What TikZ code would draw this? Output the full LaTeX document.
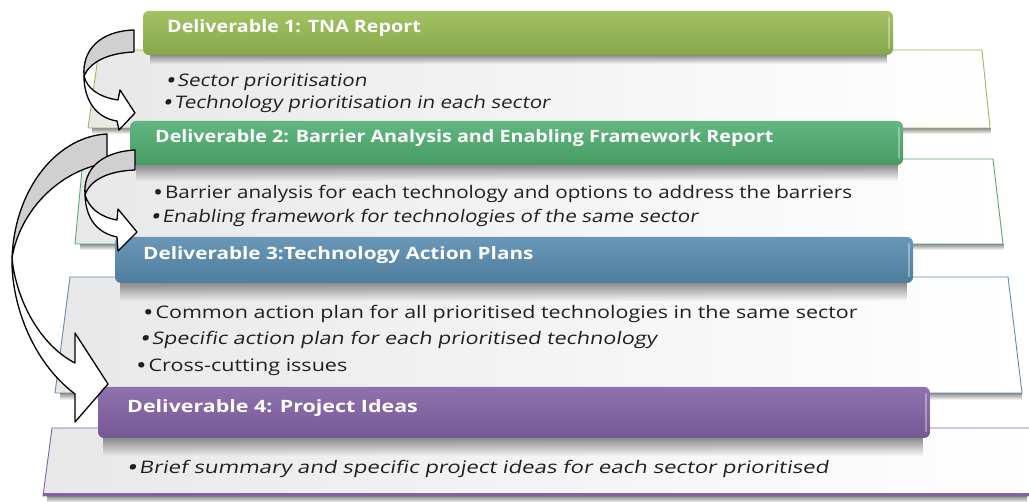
\documentclass[tikz,border=0pt]{standalone}
\usepackage{fontspec}
\usepackage{graphicx}
\setmainfont{Open Sans}
\newfontfamily\slantfont[FakeSlant=0.14]{Open Sans}
\usetikzlibrary{fadings}
\tikzfading[name=fadedown, top color=transparent!0, bottom color=transparent!100]
\newcommand\itemwide[2][1.19]{\scalebox{#1}[1]{\raisebox{-1.4pt}{\scalebox{1.3}{•}}\kern1.5pt#2}}
\newcommand\barwide[2][1.16]{\scalebox{#1}[1]{#2}}
\definecolor{barA1}{HTML}{A2C264}\definecolor{barA2}{HTML}{86A747}
\definecolor{barB1}{HTML}{62B681}\definecolor{barB2}{HTML}{469B63}
\definecolor{barC1}{HTML}{6A97B8}\definecolor{barC2}{HTML}{4E7D9E}
\definecolor{barD1}{HTML}{8F71AE}\definecolor{barD2}{HTML}{765896}
\definecolor{edgeA}{HTML}{9BBB59}\definecolor{edgeB}{HTML}{4CAF6E}
\definecolor{edgeC}{HTML}{5B8DB5}\definecolor{edgeD}{HTML}{8064A2}
\definecolor{boxgray}{HTML}{E8E8E8}\definecolor{backface}{HTML}{D0D0D0}
\tikzset{
  contentbox/.style={left color=boxgray, right color=white, line width=0.9pt},
  barbox/.style={rounded corners=6pt, draw=none},
  barshine/.style={draw=white, draw opacity=0.35, line width=2.5pt, line cap=round},
  shadowbox/.style={fill=black!45, path fading=fadedown, draw=none},
  bartext/.style={anchor=base west, inner sep=0pt, text=white, font=\bfseries\fontsize{17}{20}\selectfont},
  itemtext/.style={anchor=base west, inner sep=0pt, text=black!88, font=\fontsize{17.3}{22}\selectfont},
  itemslant/.style={itemtext, font=\slantfont\fontsize{17.3}{22}\selectfont},
  arrowline/.style={draw=black, line width=1.3pt, line join=round},
}
\begin{document}
\begin{tikzpicture}[x=1pt,y=-1pt]
\useasboundingbox (0,0) rectangle (1029,502);
\fill[white] (0,0) rectangle (1029,502);
% ---- box 1
\fill[shadowbox] (92,128) rectangle (992,134);
\draw[contentbox, draw=edgeA] (99,50) -- (982,50) -- (990,128) -- (88,128) -- cycle;
\fill[shadowbox] (150,55) rectangle (888,64);
\shade[barbox, top color=barA1, bottom color=barA2] (143,11) rectangle (893,55);
\draw[barshine] (889,18) -- (889,48);
\node[bartext] (t1) at (167,33) {\barwide{Deliverable 1: TNA Report}};
\node[itemslant] (i11) at (165,87) {\itemwide{Sector prioritisation}};
\node[itemslant] (i12) at (162,109) {\itemwide{Technology prioritisation in each sector}};
% ---- box 2
\fill[shadowbox] (80,244) rectangle (1005,250);
\draw[contentbox, draw=edgeB] (83,159) -- (993,159) -- (1003,244) -- (75,244) -- cycle;
\fill[shadowbox] (136,165) rectangle (898,181);
\shade[barbox, top color=barB1, bottom color=barB2] (130,121) rectangle (903,165);
\draw[barshine] (899,128) -- (899,158);
\node[bartext] (t2) at (155,143) {\barwide{Deliverable 2: Barrier Analysis and Enabling Framework Report}};
\node[itemtext] (i21) at (153,199) {\itemwide{Barrier analysis for each technology and options to address the barriers}};
\node[itemslant] (i22) at (150,223) {\itemwide{Enabling framework for technologies of the same sector}};
% ---- box 3
\fill[shadowbox] (60,393) rectangle (1024,400);
\draw[contentbox, draw=edgeC] (70,277) -- (1008,277) -- (1022,393) -- (55,393) -- cycle;
\fill[shadowbox] (120,283) rectangle (908,301);
\shade[barbox, top color=barC1, bottom color=barC2] (115,237) rectangle (913,283);
\draw[barshine] (909,244) -- (909,276);
\node[bartext] (t3) at (143,260) {\barwide[1.22]{Deliverable 3:Technology Action Plans}};
\node[itemtext] (i31) at (143,319) {\itemwide[1.24]{Common action plan for all prioritised technologies in the same sector}};
\node[itemslant] (i32) at (139,345) {\itemwide[1.245]{Specific action plan for each prioritised technology}};
\node[itemtext] (i33) at (136,372) {\itemwide[1.245]{Cross-cutting issues}};
% ---- box 4
\fill[shadowbox] (48,496) rectangle (1029,503);
\draw[contentbox, draw=edgeD] (52,428) -- (1040,428) -- (1040,496) -- (43,496) -- cycle;
\draw[edgeD, line width=3pt] (43,495) -- (1040,495);
\fill[shadowbox] (104,438) rectangle (925,456);
\shade[barbox, top color=barD1, bottom color=barD2] (98,387) rectangle (930,438);
\draw[barshine] (926,394) -- (926,431);
\node[bartext] (t4) at (127,413) {\barwide[1.26]{Deliverable 4: Project Ideas}};
\node[itemslant] (i41) at (126,474) {\itemwide[1.28]{Brief summary and specific project ideas for each sector prioritised}};
% ---- curved arrows
% big arrow 2 -> 4
\filldraw[arrowline, fill=backface] (107,134) .. controls (60,136) and (15,185) .. (12,258)
   .. controls (20,210) and (60,170) .. (107,163) -- cycle;
\filldraw[arrowline, fill=white] (12,258) .. controls (11,300) and (30,360) .. (75,394)
   -- (75,422) -- (108,384) -- (75,333) -- (75,363)
   .. controls (40,345) and (16,300) .. (12,258) -- cycle;
% arrow 1 -> 2
\filldraw[arrowline, fill=backface] (134,30) .. controls (100,31) and (82,50) .. (84,76)
   .. controls (90,62) and (108,53) .. (134,52) -- cycle;
\filldraw[arrowline, fill=white] (84,76) .. controls (84,100) and (96,118) .. (117,121)
   -- (119,130) -- (135,113) -- (120,90) -- (118,100)
   .. controls (98,97) and (87,88) .. (84,76) -- cycle;
% arrow 2 -> 3
\filldraw[arrowline, fill=backface] (135,150) .. controls (100,152) and (83,170) .. (85,195)
   .. controls (90,180) and (108,171) .. (135,170) -- cycle;
\filldraw[arrowline, fill=white] (85,195) .. controls (86,220) and (98,233) .. (117,237)
   -- (118,251) -- (137,232) -- (118,209) -- (117,220)
   .. controls (100,217) and (89,208) .. (85,195) -- cycle;
\end{tikzpicture}
\end{document}
